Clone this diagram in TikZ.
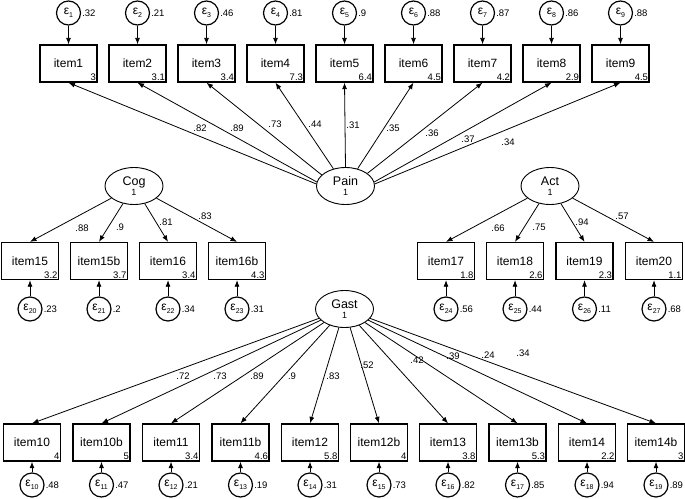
\documentclass[tikz,border=0pt]{standalone}
\usepackage{fontspec}
\setmainfont{Liberation Sans}
\usetikzlibrary{shapes.geometric, arrows.meta}
\newcommand{\esub}[1]{\raisebox{-2.5pt}{\fontsize{7}{7}\selectfont #1}}
\begin{document}
\begin{tikzpicture}[x=1pt, y=-1pt,
  obs/.style={draw, line width=1.3pt, minimum width=57pt, minimum height=37pt, inner sep=0pt, font=\fontsize{12}{12}\selectfont},
  lat/.style={draw, ellipse, line width=0.9pt, minimum width=58pt, minimum height=37pt, inner sep=0pt, align=center, font=\fontsize{12.5}{12.5}\selectfont},
  err/.style={draw, circle, line width=1.2pt, minimum size=24pt, inner sep=0pt, font=\fontsize{12}{12}\selectfont},
  pth/.style={-{Latex[length=6.5pt,width=5pt]}, line width=0.8pt},
  coef/.style={font=\fontsize{9.5}{9.5}\selectfont, inner sep=0pt},
  num/.style={font=\fontsize{9.5}{9.5}\selectfont, anchor=south east, inner sep=1.5pt},
  evar/.style={font=\fontsize{9.5}{9.5}\selectfont, anchor=west, inner sep=1pt}
]
\useasboundingbox (0,0) rectangle (685,498);

% latent variables
\node[lat] (pain) at (345.5,186) {Pain\\[-2pt]{\fontsize{9}{9}\selectfont 1}};
\node[lat] (cog) at (134,186) {Cog\\[-2pt]{\fontsize{9}{9}\selectfont 1}};
\node[lat] (act) at (550,186) {Act\\[-2pt]{\fontsize{9}{9}\selectfont 1}};
\node[lat] (gast) at (344.5,309) {Gast\\[-2pt]{\fontsize{9}{9}\selectfont 1}};

% Pain block (top)
\foreach \i/\x/\m/\v/\c/\lx/\ly/\a in {
  1/68.5/3/.32/.82/200/128/176, 2/137.5/3.1/.21/.89/237/128/172, 3/206.5/3.4/.46/.73/275/124/155,
  4/275.5/7.3/.81/.44/315/124/125, 5/344.5/6.4/.9/.31/353/125/90, 6/413.5/4.5/.88/.35/393/128/55,
  7/482.5/4.2/.87/.36/432/133/30, 8/551.5/2.9/.86/.37/468/139/8, 9/620.5/4.5/.88/.34/508/142/4}{
  \node[obs, label={[num]south east:\m}] (item\i) at (\x,63.5) {item\i};
  \node[err, label={[evar]east:\v}] (e\i) at (\x,13) {ε\esub{\i}};
  \draw[pth] (e\i) -- (item\i);
  \draw[pth] (pain.\a) -- (item\i.south);
  \node[coef] (cp\i) at (\lx,\ly) {\c};
}

% Cog block
\foreach \n/\x/\m/\e/\v/\c/\lx/\ly in {
  15/30/3.2/20/.23/.88/82/228, 15b/99/3.7/21/.2/.9/120/227,
  16/168/3.4/22/.34/.81/166/222, 16b/237/4.3/23/.31/.83/205/216}{
  \node[obs, label={[num]south east:\m}] (item\n) at (\x,261) {item\n};
  \node[err, label={[evar]east:\v}] (e\e) at (\x,309) {ε\esub{\e}};
  \draw[pth] (e\e) -- (item\n);
  \draw[pth] (cog) -- (item\n.north);
  \node[coef] (cc\n) at (\lx,\ly) {\c};
}

% Act block
\foreach \n/\x/\m/\e/\v/\c/\lx/\ly in {
  17/446/1.8/24/.56/.66/498/228, 18/515/2.6/25/.44/.75/539/227,
  19/584.5/2.3/26/.11/.94/582/222, 20/654/1.1/27/.68/.57/622/216}{
  \node[obs, label={[num]south east:\m}] (item\n) at (\x,261) {item\n};
  \node[err, label={[evar]east:\v}] (e\e) at (\x,309) {ε\esub{\e}};
  \draw[pth] (e\e) -- (item\n);
  \draw[pth] (act) -- (item\n.north);
  \node[coef] (ca\n) at (\lx,\ly) {\c};
}

% Gast block (bottom)
\foreach \n/\x/\m/\e/\v/\c/\lx/\ly in {
  10/32/4/10/.48/.72/183/376, 10b/101.5/5/11/.47/.73/220/376,
  11/171/3.4/12/.21/.89/257/376, 11b/240.5/4.6/13/.19/.9/292/376,
  12/310/5.8/14/.31/.83/333/376, 12b/379/4/15/.73/.52/367/365,
  13/448/3.8/16/.82/.42/417/360, 13b/517.5/5.3/17/.85/.39/453/356,
  14/587/2.2/18/.94/.24/488/355, 14b/656/3/19/.89/.34/523/353}{
  \node[obs, label={[num]south east:\m}] (item\n) at (\x,442.5) {item\n};
  \node[err, label={[evar]east:\v}] (e\e) at (\x,485) {ε\esub{\e}};
  \draw[pth] (e\e) -- (item\n);
  \draw[pth] (gast) -- (item\n.north);
  \node[coef] (cg\n) at (\lx,\ly) {\c};
}
\end{tikzpicture}
\end{document}
